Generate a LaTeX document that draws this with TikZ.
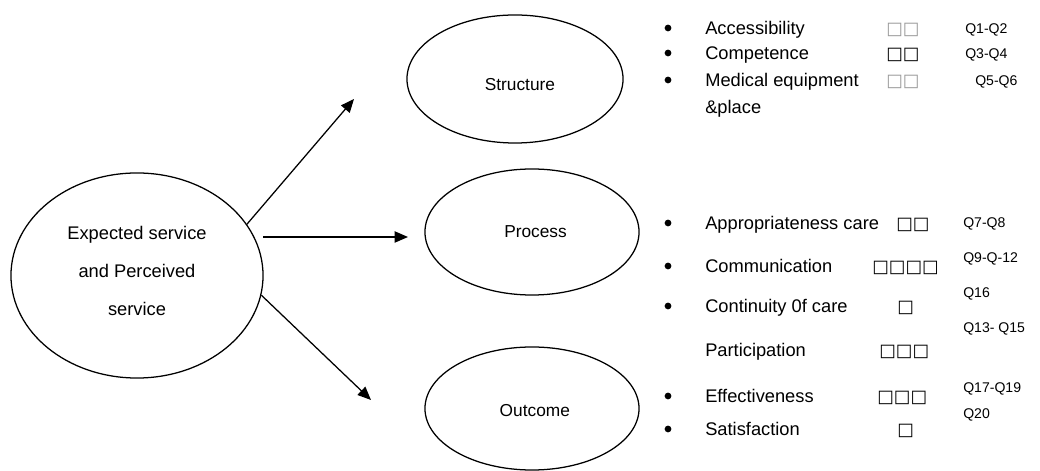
\documentclass[tikz,border=0pt]{standalone}
\usepackage{fontspec}
\setmainfont{Liberation Sans}
\newfontfamily\symf{DejaVu Sans}
\usetikzlibrary{shapes.geometric,arrows.meta}
\begin{document}
\begin{tikzpicture}[x=0.025cm,y=-0.025cm,
  oval/.style={draw, ellipse, line width=0.9pt, inner sep=0pt, font=\fontsize{12.3}{14}\selectfont},
  conn/.style={line width=0.9pt, -{Triangle[length=9.5pt,width=8pt]}},
  item/.style={anchor=base west, inner sep=0pt, font=\fontsize{13}{15}\selectfont},
  qlab/.style={anchor=base west, inner sep=0pt, font=\fontsize{10}{12}\selectfont},
  boxes/.style={anchor=base west, inner sep=0pt, font=\symf\fontsize{12.5}{15}\selectfont},
  faint/.style={boxes, text=black!40},
  bul/.style={fill=black}
]
\useasboundingbox (0,0) rectangle (1040,471);

% ovals
\node[oval, minimum width=6.3cm, minimum height=5.125cm, align=center,
      font=\fontsize{13}{27}\selectfont] (esv) at (137,275.5)
      {Expected service\\and Perceived\\service\rule[-7pt]{0pt}{7pt}};
\node[oval, minimum width=5.4cm, minimum height=3.2cm] (str) at (515,79)
      {\hspace*{7pt}\rule{0pt}{17pt}Structure};
\node[oval, minimum width=5.35cm, minimum height=3.15cm] (pro) at (532,232)
      {\hspace*{5pt}Process};
\node[oval, minimum width=5.35cm, minimum height=3.075cm] (out) at (532,408.5)
      {\hspace*{4pt}\rule{0pt}{12pt}Outcome};

% connectors
\coordinate (t1) at (354,99);
\coordinate (h0) at (263,237);
\coordinate (t2) at (408,237);
\coordinate (t3) at (371,400);
\draw[conn] (esv.25) -- (t1);
\draw[conn] (h0) -- (t2);
\draw[conn] (esv.-9.3) -- (t3);

% bullets
\foreach \yy in {28,53,80,223,266,306,396,429}
  \fill[bul] (668,\yy) circle[radius=2.4pt];

% structure list
\node[item] (acc) at (705,34.6) {Accessibility};
\node[faint] (accb) at (886,34.6) {□□};
\node[qlab] (accq) at (965,33.3) {Q1-Q2};
\node[item] (com) at (705,59.6) {Competence};
\node[boxes] (comb) at (886,59.6) {□□};
\node[qlab] (comq) at (965,58.3) {Q3-Q4};
\node[item] (med) at (705,86.6) {Medical equipment};
\node[faint] (medb) at (886,86.6) {□□};
\node[qlab] (medq) at (975,85.3) {Q5-Q6};
\node[item] (pla) at (705,113.6) {\&place};

% process list
\node[item] (app) at (705,229.6) {Appropriateness care};
\node[boxes] (appb) at (896,229.6) {□□};
\node[qlab] (appq) at (963,227.3) {Q7-Q8};
\node[item] (cmm) at (705,272.6) {Communication};
\node[boxes] (cmmb) at (872,272.6) {□□□□};
\node[qlab] (cmmq) at (963,262.3) {Q9-Q-12};
\node[item] (con) at (705,312.6) {Continuity 0f care};
\node[boxes] (conb) at (897,312.6) {□};
\node[qlab] (conq) at (963,297.3) {Q16};
\node[item] (par) at (705,356.6) {Participation};
\node[boxes] (parb) at (879,356.6) {□□□};
\node[qlab] (parq) at (963,332.3) {Q13- Q15};

% outcome list
\node[item] (eff) at (705,402.6) {Effectiveness};
\node[boxes] (effb) at (877,402.6) {□□□};
\node[qlab] (effq) at (963,392.3) {Q17-Q19};
\node[item] (sat) at (705,435.6) {Satisfaction};
\node[boxes] (satb) at (897,435.6) {□};
\node[qlab] (satq) at (963,418.3) {Q20};
\end{tikzpicture}
\end{document}
